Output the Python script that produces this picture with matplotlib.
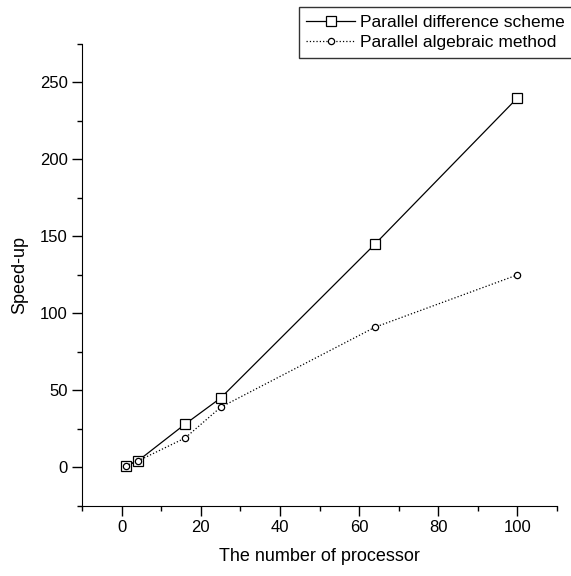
import matplotlib
matplotlib.use("Agg")
import matplotlib.pyplot as plt
from matplotlib.ticker import MultipleLocator

plt.rcParams['font.family'] = ['Liberation Sans', 'DejaVu Sans']

# processors and speed-up
procs = [1, 4, 16, 25, 64, 100]
diff_scheme = [1, 4, 28, 45, 145, 240]
alg_method = [1, 4, 19, 39, 91, 125]

fig = plt.figure(figsize=(5.71, 5.76), dpi=100)
ax = fig.add_axes([0.144, 0.122, 0.8315, 0.8016])

ax.plot(procs, diff_scheme, '-', color='black', lw=0.9, marker='s', ms=7,
        mfc='white', mec='black', mew=0.9, label='Parallel difference scheme')
ax.plot(procs, alg_method, ':', color='black', lw=0.9, marker='o', ms=4.5,
        mfc='white', mec='black', mew=0.9, label='Parallel algebraic method')

ax.set_xlim(-10, 110)
ax.set_ylim(-25, 275)
ax.xaxis.set_major_locator(MultipleLocator(20))
ax.xaxis.set_minor_locator(MultipleLocator(10))
ax.yaxis.set_major_locator(MultipleLocator(50))
ax.yaxis.set_minor_locator(MultipleLocator(25))
ax.tick_params(which='major', direction='out', length=7, width=1, labelsize=12)
ax.tick_params(which='minor', direction='out', length=3.5, width=1)

ax.spines['top'].set_visible(False)
ax.spines['right'].set_visible(False)

ax.set_xlabel('The number of processor', fontsize=13, labelpad=9)
ax.set_ylabel('Speed-up', fontsize=13, labelpad=8)

leg = fig.legend(loc='upper right', bbox_to_anchor=(1.003, 0.988), fontsize=12.5,
                 frameon=True, fancybox=False, edgecolor='black',
                 handlelength=2.8, handletextpad=0.3, borderpad=0.45,
                 labelspacing=0.3, borderaxespad=0.0)
leg.get_frame().set_linewidth(1)

fig.savefig('out.png', dpi=100)
